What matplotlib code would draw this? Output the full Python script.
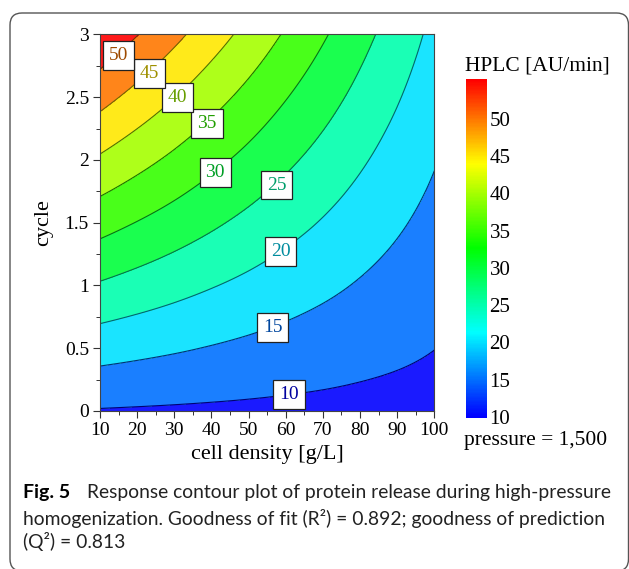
import numpy as np
import matplotlib
matplotlib.use('Agg')
import matplotlib.pyplot as plt
from matplotlib.colors import hsv_to_rgb, ListedColormap, Normalize
from matplotlib.cm import ScalarMappable
from matplotlib.patches import FancyBboxPatch
from matplotlib.transforms import IdentityTransform
from matplotlib.tri import Triangulation, UniformTriRefiner

# grid
cell_density = [10, 20, 30, 40, 50, 60, 70, 80, 90, 100]
cycle = [0, 0.25, 0.5, 0.75, 1.0, 1.25, 1.5, 1.75, 2.0, 2.25, 2.5, 2.75, 3.0]
hplc = [
    [9.70, 9.54, 9.39, 9.23, 9.08, 8.92, 8.77, 8.61, 8.46, 8.30],
    [13.40, 12.93, 12.46, 11.99, 11.52, 11.05, 10.59, 10.11, 9.65, 9.18],
    [17.10, 16.31, 15.54, 14.75, 13.97, 13.18, 12.41, 11.62, 10.84, 10.05],
    [20.80, 19.70, 18.61, 17.50, 16.42, 15.31, 14.22, 13.12, 12.03, 10.93],
    [24.50, 23.08, 21.68, 20.26, 18.86, 17.44, 16.04, 14.62, 13.22, 11.80],
    [28.20, 26.47, 24.75, 23.02, 21.31, 19.57, 17.86, 16.12, 14.41, 12.68],
    [31.90, 29.85, 27.83, 25.78, 23.75, 21.70, 19.68, 17.63, 15.60, 13.55],
    [35.60, 33.24, 30.90, 28.53, 26.20, 23.83, 21.49, 19.13, 16.79, 14.43],
    [39.30, 36.62, 33.97, 31.29, 28.64, 25.96, 23.31, 20.63, 17.98, 15.30],
    [43.00, 40.01, 37.04, 34.05, 31.09, 28.09, 25.13, 22.13, 19.17, 16.18],
    [46.70, 43.39, 40.12, 36.81, 33.53, 30.22, 26.95, 23.64, 20.36, 17.05],
    [50.40, 46.78, 43.19, 39.56, 35.98, 32.35, 28.76, 25.14, 21.55, 17.93],
    [54.10, 50.16, 46.26, 42.32, 38.42, 34.48, 30.58, 26.64, 22.74, 18.80],
]
levels = [10, 15, 20, 25, 30, 35, 40, 45, 50]
cbar_ticks = [10, 15, 20, 25, 30, 35, 40, 45, 50]
cbar_min, cbar_max = 9.8, 55.3

# where the boxed level labels sit (layout)
label_pos = [(60.9, 0.13), (56.5, 0.667), (58.6, 1.27), (57.5, 1.80), (41.0, 1.90),
             (38.8, 2.29), (30.9, 2.50), (23.3, 2.69), (15.0, 2.83)]

serif = 'Liberation Serif'


def hue_color(v, val=1.0):
    # blue at 10 -> red at the top of the scale
    h = np.clip((cbar_max - v) / (cbar_max - 10), 0, 1) * 240 / 360
    return hsv_to_rgb((h, 1.0, val))


def lighten(c, f=0.1):
    return tuple(np.array(c) * (1 - f) + f)


fig = plt.figure(figsize=(6.29, 5.69), dpi=100)
ax = fig.add_axes([0.159, 0.2777, 0.5315, 0.6617])

X, Y = np.meshgrid(cell_density, cycle)
Z = np.array(hplc)

# smooth the contours with matplotlib's triangulation refiner
# (triangulate in cell units so the cubic fit is not stretched)
tri = Triangulation(X.ravel() / 10.0, Y.ravel() * 4.0)
tri_f, z_f = UniformTriRefiner(tri).refine_field(Z.ravel(), subdiv=3)
tri_f = Triangulation(tri_f.x * 10.0, tri_f.y / 4.0, triangles=tri_f.triangles)

bounds = [0] + levels + [100]
uppers = levels + [cbar_max]
fill_cols = [lighten(hue_color(u)) for u in uppers]
ax.tricontourf(tri_f, z_f, levels=bounds, colors=fill_cols)
ax.tricontour(tri_f, z_f, levels=levels, colors=[hue_color(l, 0.45) for l in levels],
              linewidths=0.8)

for lev, (px, py) in zip(levels, label_pos):
    ax.text(px, py, str(lev), ha='center', va='center', family=serif, fontsize=14,
            color=hue_color(lev, 0.62),
            bbox=dict(boxstyle='square,pad=0.3', fc='white', ec='#222222', lw=0.9))

ax.set_xlim(10, 100)
ax.set_ylim(0, 3)
ax.set_xticks(range(10, 101, 10))
ax.set_xticks(range(15, 100, 10), minor=True)
ax.set_yticks([0, 0.5, 1, 1.5, 2, 2.5, 3])
ax.set_yticklabels(['0', '0.5', '1', '1.5', '2', '2.5', '3'])
ax.set_yticks([0.25, 0.75, 1.25, 1.75, 2.25, 2.75], minor=True)
ax.tick_params(which='major', length=5, width=0.8, color='#333333', labelsize=14, pad=3)
ax.tick_params(which='minor', length=3, width=0.7, color='#333333')
for lab in ax.get_xticklabels() + ax.get_yticklabels():
    lab.set_family(serif)
for sp in ax.spines.values():
    sp.set_linewidth(0.8)
    sp.set_color('#444444')
ax.set_xlabel('cell density [g/L]', family=serif, fontsize=16, labelpad=4)
ax.set_ylabel('cycle', family=serif, fontsize=16, labelpad=8)

# colour bar
cax = fig.add_axes([0.7409, 0.2649, 0.0329, 0.5958])
ramp = np.linspace(cbar_min, cbar_max, 256)
cmap = ListedColormap([hue_color(v) for v in ramp])
cb = fig.colorbar(ScalarMappable(norm=Normalize(cbar_min, cbar_max), cmap=cmap), cax=cax)
cb.set_ticks(cbar_ticks)
cb.outline.set_visible(False)
cax.tick_params(length=0, pad=2, labelsize=15)
for lab in cax.get_yticklabels():
    lab.set_family(serif)

fig.text(465 / 629, 1 - 66 / 569, 'HPLC [AU/min]', family=serif, fontsize=15.5,
         ha='left', va='center')
fig.text(464 / 629, 1 - 440 / 569, 'pressure = 1,500', family=serif, fontsize=15.5,
         ha='left', va='center')

# caption
cap = 'Lato'
fig.text(23 / 629, 1 - 498 / 569, 'Fig. 5', family=cap, weight='bold', fontsize=14,
         va='baseline')
fig.text(87 / 629, 1 - 498 / 569, 'Response contour plot of protein release during high-pressure',
         family=cap, fontsize=13.9, va='baseline', color='#222222')
fig.text(23 / 629, 1 - 525 / 569,
         'homogenization. Goodness of fit (R\u00b2) = 0.892; goodness of prediction',
         family=cap, fontsize=13.9, va='baseline', color='#222222')
fig.text(23 / 629, 1 - 548 / 569, '(Q\u00b2) = 0.813', family=cap, fontsize=13.9,
         va='baseline', color='#222222')

# rounded frame round the whole figure
frame = FancyBboxPatch((10, -2), 618.5, 569 - 13 + 2, boxstyle='round,pad=0,rounding_size=12',
                       fc='none', ec='#555555', lw=1.0, transform=IdentityTransform())
fig.patches.append(frame)

fig.savefig('out.png', dpi=100)
